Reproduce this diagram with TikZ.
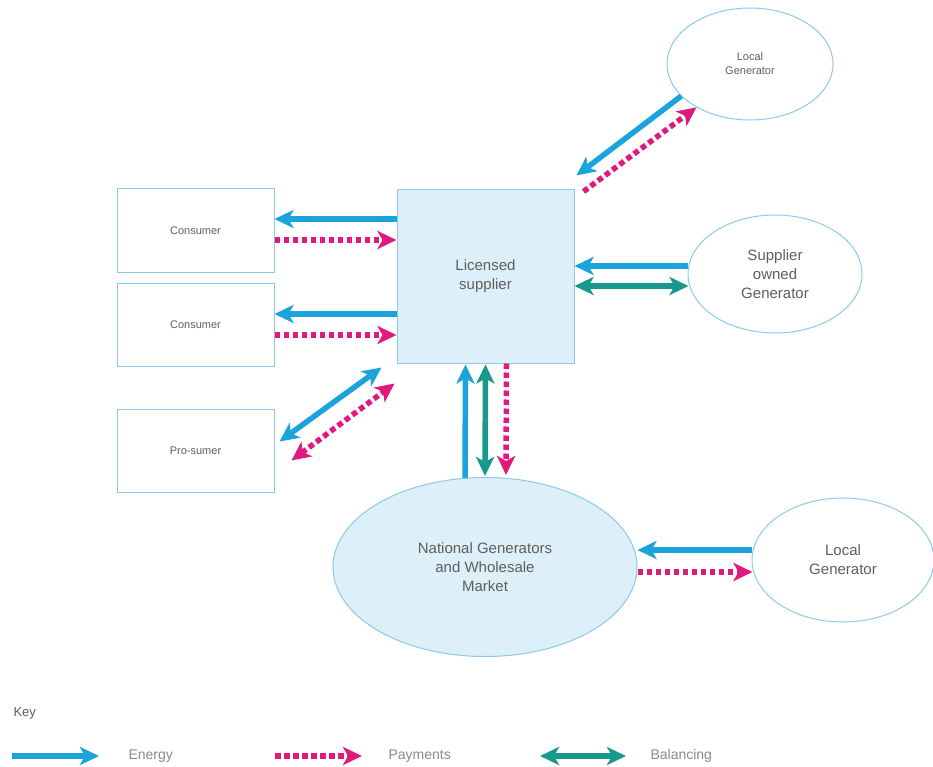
\documentclass[tikz,border=0pt]{standalone}
\usepackage{fontspec}
\setmainfont{Liberation Sans}
\usetikzlibrary{arrows.meta,calc,shapes.geometric}
\definecolor{eblue}{HTML}{1BA3DC}
\definecolor{ppink}{HTML}{E0197D}
\definecolor{bgreen}{HTML}{179A8A}
\definecolor{bord}{HTML}{8ACBEA}
\definecolor{lfill}{HTML}{DDEFF9}
\definecolor{txt}{HTML}{5E5E5E}
\definecolor{ktxt}{HTML}{8A8A8A}
\tikzset{
  tip/.tip={Stealth[length=19pt,width=18pt,inset=5pt]},
  energy/.style={draw=eblue,line width=5.5pt,-tip},
  energyboth/.style={draw=eblue,line width=5.5pt,tip-tip},
  payment/.style={draw=ppink,line width=5.5pt,dash pattern=on 5.5pt off 3.5pt,-tip},
  paymentboth/.style={draw=ppink,line width=5.5pt,dash pattern=on 5.5pt off 3.5pt,tip-tip},
  balance/.style={draw=bgreen,line width=5.5pt,tip-tip},
  cbox/.style={draw=bord,line width=1pt,rectangle,minimum width=157pt,minimum height=83pt,text=txt,font=\fontsize{11}{13}\selectfont},
  gen/.style={draw=bord,line width=1pt,ellipse,text=txt,align=center,font=\fontsize{15}{19}\selectfont},
  keytxt/.style={text=ktxt,anchor=west,font=\fontsize{14}{16}\selectfont},
}
\begin{document}
\begin{tikzpicture}[x=1pt,y=-1pt]
\useasboundingbox (0,0) rectangle (933,767);
% nodes
\node[draw=bord,fill=lfill,line width=1pt,minimum width=177pt,minimum height=173pt,text=txt,align=center,font=\fontsize{15}{19}\selectfont] (sup) at (485.5,276.5) {Licensed\\supplier};
\node[cbox] (c1) at (195.5,230.5) {Consumer};
\node[cbox] (c2) at (195.5,324.5) {Consumer};
\node[cbox] (pro) at (195.5,450.5) {Pro-sumer};
\node[gen,minimum width=166pt,minimum height=112pt,font=\fontsize{11}{14}\selectfont] (lg1) at (750,64) {Local\\Generator};
\node[gen,minimum width=174pt,minimum height=118pt] (sog) at (775,274) {Supplier\\owned\\Generator};
\node[gen,fill=lfill,minimum width=304pt,minimum height=179pt] (nat) at (485,567) {National Generators\\and Wholesale\\Market};
\node[gen,minimum width=182pt,minimum height=124pt] (lg2) at (843,560) {Local\\Generator};
% top local generator
\draw[energy] (lg1.205) -- ($(sup.north east)+(2,-14)$);
\draw[payment] ($(sup.north east)+(9,2)$) -- (lg1.219);
% consumers
\draw[energy] (sup.west |- 0,219) -- (c1.east |- 0,219);
\draw[payment] (c1.east |- 0,240) -- (sup.west |- 0,240);
\draw[energy] (sup.west |- 0,314) -- (c2.east |- 0,314);
\draw[payment] (c2.east |- 0,335) -- (sup.west |- 0,335);
% pro-sumer
\draw[energyboth] ($(pro.east)+(5,-9)$) -- ($(sup.south west)+(-15,4)$);
\draw[paymentboth] ($(pro.east)+(17,10)$) -- ($(sup.south west)+(-2,20)$);
% supplier owned generator
\draw[energy] (sog.west |- 0,266) -- (sup.east |- 0,266);
\draw[balance] (sup.east |- 0,286) -- ($(sog.west |- 0,286)+(1,0)$);
% national
\draw[energy] ($(nat.north)+(-20,1)$) -- ($(sup.south)+(-20,1)$);
\draw[balance] ($(sup.south)+(0,1)$) -- ($(nat.north)+(0,-1)$);
\draw[payment] ($(sup.south)+(21,0)$) -- ($(nat.north)+(21,-2)$);
% bottom local generator
\draw[energy] (lg2.west |- 0,550) -- (nat.east |- 0,550);
\draw[payment] (nat.east |- 0,572) -- ($(lg2.west |- 0,572)+(1,0)$);
% key
\node[anchor=west,text=txt,font=\fontsize{13}{15}\selectfont] (key) at (10,713) {Key};
\coordinate (ea) at (12,756); \coordinate (eb) at (99,756);
\draw[energy] (ea) -- (eb);
\node[keytxt] (etxt) at (125,756) {Energy};
\coordinate (pa) at (275,756); \coordinate (pb) at (362,756);
\draw[payment] (pa) -- (pb);
\node[keytxt] (ptxt) at (385,756) {Payments};
\coordinate (ba) at (540,756); \coordinate (bb) at (626,756);
\draw[balance] (ba) -- (bb);
\node[keytxt] (btxt) at (647,756) {Balancing};
\end{tikzpicture}
\end{document}
